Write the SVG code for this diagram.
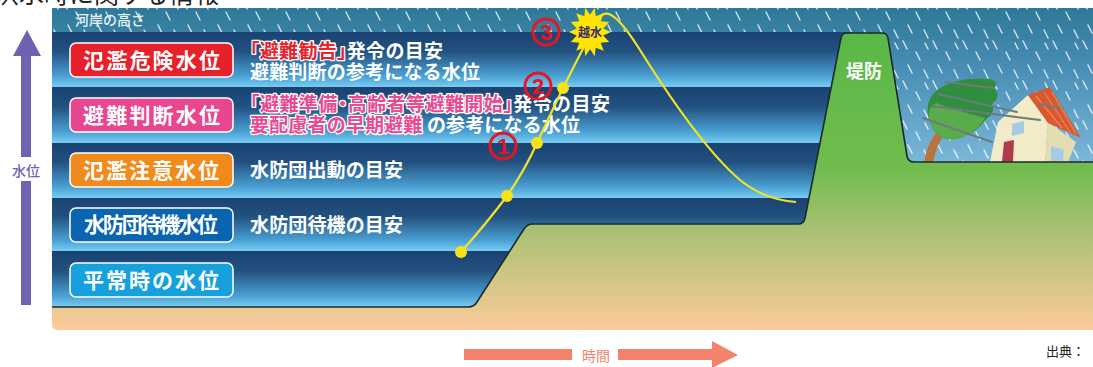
<svg xmlns="http://www.w3.org/2000/svg" width="1093" height="367" viewBox="0 0 1093 367">
  <defs>
    <style>
      text { font-family: "Noto Sans CJK JP", "Noto Sans", sans-serif; }
      .lvl { fill: #ffffff; font-size: 21px; font-weight: 700; }
      .box { stroke: #ffffff; stroke-width: 1.5; }
      .desc { fill: #ffffff; font-size: 19px; font-weight: 700; font-feature-settings: "halt"; }
      .hl-red { fill: #e8232c; stroke: #ffffff; stroke-width: 2.6; paint-order: stroke; stroke-linejoin: round; }
      .hl-pink { fill: #ea4a92; stroke: #ffffff; stroke-width: 2.6; paint-order: stroke; stroke-linejoin: round; }
      .dot { fill: #f5e21a; }
      .num-ring { fill: none; stroke: #e8141e; stroke-width: 3; }
      .num { fill: #e8141e; font-size: 22px; font-weight: 700; text-anchor: middle; font-family: "Liberation Sans", sans-serif; }
      .wind { stroke: #6d7a80; stroke-width: 2; stroke-linecap: round; }
    </style>
    <linearGradient id="bandGrad" x1="0" y1="0" x2="0" y2="1">
      <stop offset="0" stop-color="#1a4272"/>
      <stop offset="0.35" stop-color="#22517f"/>
      <stop offset="0.8" stop-color="#4aa0d4"/>
      <stop offset="1" stop-color="#78cdf2"/>
    </linearGradient>
    <linearGradient id="skyGrad" x1="0" y1="8" x2="0" y2="165" gradientUnits="userSpaceOnUse">
      <stop offset="0" stop-color="#2e7898"/>
      <stop offset="0.4" stop-color="#4a8fb6"/>
      <stop offset="1" stop-color="#7cb9da"/>
    </linearGradient>
    <linearGradient id="landGrad" x1="0" y1="33" x2="0" y2="330" gradientUnits="userSpaceOnUse">
      <stop offset="0" stop-color="#58b847"/>
      <stop offset="0.46" stop-color="#72bc4e"/>
      <stop offset="0.66" stop-color="#a8c073"/>
      <stop offset="0.83" stop-color="#d2c684"/>
      <stop offset="1" stop-color="#fccb9c"/>
    </linearGradient>
    <pattern id="rain" width="30" height="40" patternUnits="userSpaceOnUse">
      <path d="M3,1 l4,8 M16,12 l4,8 M8,25 l4,8 M25,3 l3,6 M24,30 l4,8" stroke="#ffffff" stroke-opacity="0.8" stroke-width="1.4" stroke-linecap="round" fill="none"/>
    </pattern>
  </defs>

  <!-- heading, running off the top edge -->
  <text x="-6" y="3" font-size="25" fill="#222222">洪水時に関する情報</text>

  <!-- sky with rain -->
  <g id="sky">
    <rect x="52" y="8" width="1041" height="160" fill="url(#skyGrad)"/>
    <rect x="52" y="8" width="1041" height="160" fill="url(#rain)"/>
    <text x="75" y="25" font-size="14" fill="#e8f2f6" font-weight="500">河岸の高さ</text>
  </g>

  <!-- water level bands -->
  <g id="bands">
    <rect x="52" y="32" width="800" height="55" fill="url(#bandGrad)"/>
    <rect x="52" y="87" width="800" height="56" fill="url(#bandGrad)"/>
    <rect x="52" y="143" width="800" height="55" fill="url(#bandGrad)"/>
    <rect x="52" y="198" width="800" height="53" fill="url(#bandGrad)"/>
    <rect x="52" y="251" width="800" height="56" fill="url(#bandGrad)"/>
  </g>

  <!-- tree and house behind the levee -->
  <g id="tree">
    <path d="M924,163 Q927,140 944,124 L950,127 Q936,142 933,163 Z" fill="#b8743c"/>
    <path d="M930,122 Q922,100 940,88 Q960,76 990,79 Q1000,82 994,88 Q1002,96 992,104 Q996,114 985,120 Q975,135 955,139 Q936,141 930,122 Z" fill="#2f8f3e"/>
    <path d="M930,122 Q926,108 936,103 Q955,110 985,118 Q975,135 955,139 Q936,141 930,122 Z" fill="#5aab4a"/>
  </g>
  <g id="house">
    <polygon points="990,162 998,122 1028,95 1048,122 1045,162" fill="#f3ebc7"/>
    <polygon points="1045,162 1048,122 1076,142 1068,162" fill="#e6dcb2"/>
    <polygon points="1028,95 1050,87 1081,138 1048,123" fill="#d9582f"/>
    <path d="M1036,96 L1062,128 M1044,92 L1070,132 M1052,92 L1076,134" stroke="#e8865a" stroke-width="1.2" fill="none"/>
    <polygon points="1002,162 1004,142 1014,140 1013,162" fill="#b03b4c"/>
    <polygon points="1012,124 1024,121 1024,133 1012,136" fill="#a7cbe6"/>
    <polygon points="1051,146 1064,150 1063,161 1051,161" fill="#a7cbe6"/>
  </g>
  <g id="wind">
    <line class="wind" x1="945" y1="82" x2="993" y2="88"/>
    <line class="wind" x1="938" y1="94" x2="1017" y2="112"/>
    <line class="wind" x1="932" y1="106" x2="1040" y2="120"/>
    <line class="wind" x1="923" y1="118" x2="992" y2="142"/>
    <line class="wind" x1="1040" y1="104" x2="1060" y2="108"/>
  </g>

  <!-- ground, levee and land -->
  <g id="land">
    <path d="M52,307 L468,307 Q474,307 477,302 L524,229 Q527,224 533,224 L798,224 Q804,224 805,218 L841,38 Q842,33 847,33 L882,33 Q887,33 888,38 L907,156 Q908,162 914,162 L1093,162 L1093,330 L58,330 Q52,330 52,324 Z" fill="url(#landGrad)"/>
    <path d="M52,307 L468,307 Q474,307 477,302 L524,229 Q527,224 533,224 L798,224 Q804,224 805,218 L841,38 Q842,33 847,33 L882,33 Q887,33 888,38 L907,156 Q908,162 914,162 L1093,162" fill="none" stroke="#1c2a2a" stroke-width="1.6"/>
    <text x="864" y="78" font-size="18" font-weight="700" fill="#ffffff" text-anchor="middle">堤防</text>
  </g>

  <!-- vertical axis -->
  <g id="axis">
    <polygon points="27,30 41,56 13,56" fill="#6f62b0"/>
    <rect x="21" y="55" width="10" height="102" fill="#6f62b0"/>
    <rect x="21" y="181" width="10" height="124" fill="#6f62b0"/>
    <text x="26" y="176" font-size="14" fill="#6f62b0" text-anchor="middle" font-weight="500">水位</text>
  </g>

  <!-- level labels -->
  <g id="level-danger">
    <rect class="box" x="70" y="43" width="163" height="34" rx="6" fill="#e6212b"/>
    <text class="lvl" x="83" y="68" textLength="137" lengthAdjust="spacing">氾濫危険水位</text>
  </g>
  <g id="level-judge">
    <rect class="box" x="70" y="98" width="163" height="34" rx="6" fill="#e8478f"/>
    <text class="lvl" x="83" y="123" textLength="137" lengthAdjust="spacing">避難判断水位</text>
  </g>
  <g id="level-caution">
    <rect class="box" x="70" y="153" width="163" height="34" rx="6" fill="#f18a1d"/>
    <text class="lvl" x="83" y="178" textLength="136" lengthAdjust="spacing">氾濫注意水位</text>
  </g>
  <g id="level-standby">
    <rect class="box" x="70" y="208" width="163" height="34" rx="6" fill="#0b64b0"/>
    <text class="lvl" x="84" y="232" font-size="19" textLength="134" lengthAdjust="spacing">水防団待機水位</text>
  </g>
  <g id="level-normal">
    <rect class="box" x="70" y="263" width="163" height="34" rx="6" fill="#17a0de"/>
    <text class="lvl" x="83" y="288" textLength="136" lengthAdjust="spacing">平常時の水位</text>
  </g>

  <!-- descriptions -->
  <g id="desc-danger">
    <text class="desc" x="250" y="58" textLength="193" lengthAdjust="spacing"><tspan class="hl-red">「避難勧告」</tspan>発令の目安</text>
    <text class="desc" x="250" y="79" textLength="230" lengthAdjust="spacing">避難判断の参考になる水位</text>
  </g>
  <g id="desc-judge">
    <text class="desc" x="250" y="111" textLength="360" lengthAdjust="spacing"><tspan class="hl-pink">「避難準備・高齢者等避難開始」</tspan>発令の目安</text>
    <text class="desc" x="250" y="132" textLength="330" lengthAdjust="spacing"><tspan class="hl-pink">要配慮者の早期避難</tspan> の参考になる水位</text>
  </g>
  <g id="desc-caution">
    <text class="desc" x="250" y="177" textLength="153" lengthAdjust="spacing">水防団出動の目安</text>
  </g>
  <g id="desc-standby">
    <text class="desc" x="250" y="232" textLength="153" lengthAdjust="spacing">水防団待機の目安</text>
  </g>

  <!-- water level curve -->
  <g id="connectors">
    <path d="M461,252 Q486,224 507,196 Q525,170 537,143 Q550,115 563,88 L598,19 Q603,12 609,14 Q620,18 640,50 C665,90 705,150 740,180 C760,196 780,201 796,202" fill="none" stroke="#f0e423" stroke-width="2.2"/>
    <circle class="dot" cx="461" cy="252" r="6"/>
    <circle class="dot" cx="507" cy="196" r="6"/>
    <circle class="dot" cx="537" cy="143" r="6"/>
    <circle class="dot" cx="563" cy="88" r="6"/>
  </g>

  <g id="overflow">
    <polygon fill="#ffe600" points="611,32 603.2,35.6 609.2,41.9 600.7,42.8 603.7,50.8 595.7,47.7 594.7,56.3 590,49.2 585.3,56.3 584.3,47.7 576.3,50.8 579.3,42.8 570.8,41.9 576.8,35.6 569,32 576.8,28.4 570.8,22.1 579.3,21.2 576.3,13.2 584.3,16.3 585.3,7.7 590,14.8 594.7,7.7 595.7,16.3 603.7,13.2 600.7,21.2 609.2,22.1 603.2,28.4"/>
    <text x="590" y="37" font-size="12" font-weight="700" fill="#3b2a6e" text-anchor="middle">越水</text>
  </g>

  <g id="markers">
    <circle class="num-ring" cx="546" cy="32" r="13"/>
    <text class="num" x="546" y="40">3</text>
    <circle class="num-ring" cx="538" cy="86" r="13"/>
    <text class="num" x="538" y="94">2</text>
    <circle class="num-ring" cx="503" cy="146" r="13"/>
    <text class="num" x="503" y="154">1</text>
  </g>

  <!-- time axis -->
  <g id="time-axis" fill="#f2836a">
    <rect x="464" y="349" width="108" height="11"/>
    <text x="596" y="361" font-size="14" text-anchor="middle">時間</text>
    <rect x="618" y="349" width="96" height="11"/>
    <polygon points="712,341 738,355 712,368"/>
  </g>

  <text x="1046" y="356" font-size="13" fill="#222222">出典：</text>
</svg>
